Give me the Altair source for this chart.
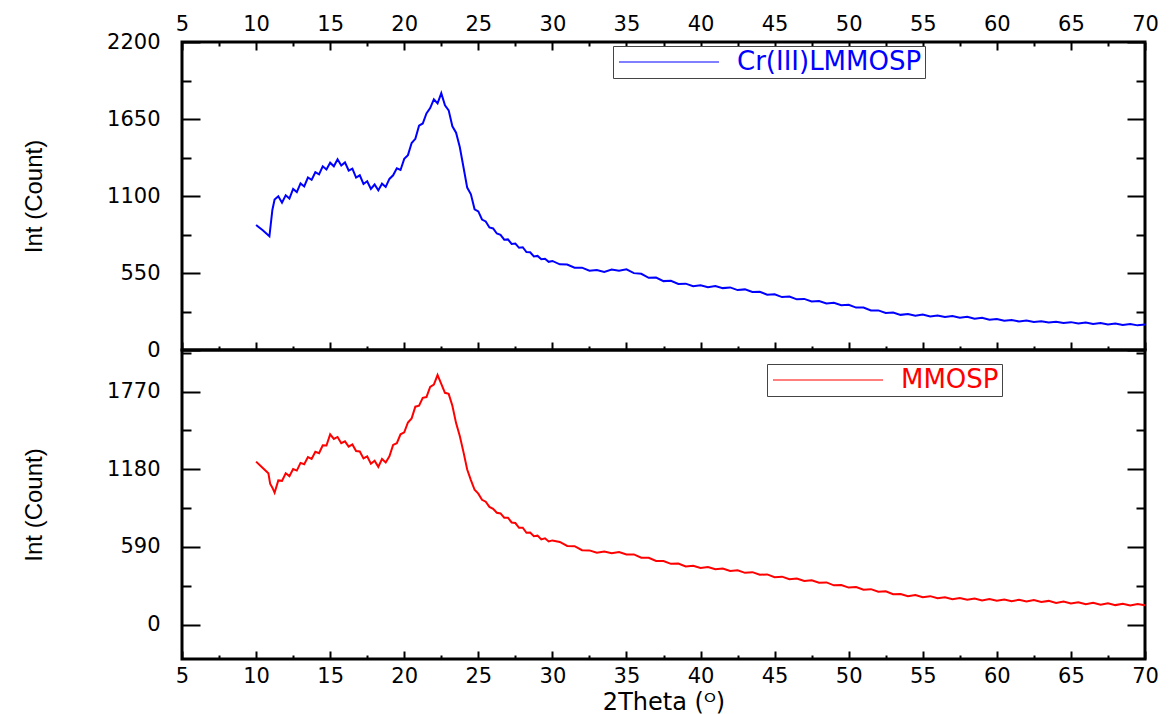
import altair as alt
import pandas as pd

# ---------------- data ----------------
blue_x = [10.0, 10.45, 10.9, 11.1, 11.25, 11.5, 11.75, 12.0, 12.25, 12.5, 12.75, 13.0, 13.25,
          13.5, 13.75, 14.0, 14.25, 14.5, 14.75, 15.0, 15.25, 15.5, 15.75, 16.0, 16.25, 16.5,
          16.75, 17.0, 17.25, 17.5, 17.75, 18.0, 18.25, 18.5, 18.75, 19.0, 19.25, 19.5, 19.75,
          20.0, 20.25, 20.5, 20.75, 21.0, 21.25, 21.5, 21.75, 22.0, 22.25, 22.5, 22.75, 23.0,
          23.25, 23.5, 23.75, 24.0, 24.25, 24.5, 24.75, 25.0, 25.25, 25.5, 25.75, 26.0, 26.25,
          26.5, 26.75, 27.0, 27.25, 27.5, 27.75, 28.0, 28.25, 28.5, 28.75, 29.0, 29.25, 29.5,
          29.75, 30.0, 30.5, 31.0, 31.5, 32.0, 32.5, 33.0, 33.5, 34.0, 34.5, 35.0, 35.5, 36.0,
          36.5, 37.0, 37.5, 38.0, 38.5, 39.0, 39.5, 40.0, 40.5, 41.0, 41.5, 42.0, 42.5, 43.0,
          43.5, 44.0, 44.5, 45.0, 45.5, 46.0, 46.5, 47.0, 47.5, 48.0, 48.5, 49.0, 49.5, 50.0,
          50.5, 51.0, 51.5, 52.0, 52.5, 53.0, 53.5, 54.0, 54.5, 55.0, 55.5, 56.0, 56.5, 57.0,
          57.5, 58.0, 58.5, 59.0, 59.5, 60.0, 60.5, 61.0, 61.5, 62.0, 62.5, 63.0, 63.5, 64.0,
          64.5, 65.0, 65.5, 66.0, 66.5, 67.0, 67.5, 68.0, 68.5, 69.0, 69.5, 70.0]
blue_y = [893, 855, 812, 1000, 1075, 1098, 1052, 1105, 1082, 1150, 1128, 1190, 1168,
          1232, 1215, 1270, 1255, 1312, 1290, 1338, 1312, 1362, 1318, 1340, 1282, 1296,
          1232, 1248, 1186, 1205, 1150, 1182, 1140, 1188, 1165, 1222, 1248, 1298, 1286,
          1365, 1392, 1478, 1508, 1602, 1618, 1690, 1728, 1790, 1762, 1835, 1748, 1712,
          1598, 1552, 1450, 1305, 1160, 1112, 1005, 990, 932, 918, 875, 868, 832,
          822, 788, 790, 758, 760, 730, 734, 700, 698, 668, 672, 648, 652,
          630, 636, 612, 611, 588, 588, 566, 571, 558, 575, 566, 576, 549, 544,
          516, 518, 492, 494, 472, 474, 456, 463, 449, 457, 442, 447, 428, 433,
          414, 416, 395, 398, 378, 382, 362, 365, 347, 350, 333, 337, 320, 323,
          303, 303, 283, 283, 265, 267, 251, 257, 245, 253, 240, 247, 235, 243,
          231, 238, 224, 230, 216, 222, 209, 214, 204, 210, 200, 206, 196, 202,
          193, 199, 189, 196, 186, 193, 183, 189, 179, 186, 176, 183]

red_x = [10.0, 10.4, 10.83, 10.95, 11.1, 11.25, 11.5, 11.75, 12.0, 12.25, 12.5, 12.75, 13.0,
         13.25, 13.5, 13.75, 14.0, 14.25, 14.5, 14.75, 15.0, 15.25, 15.5, 15.75, 16.0, 16.25,
         16.5, 16.75, 17.0, 17.25, 17.5, 17.75, 18.0, 18.25, 18.5, 18.75, 19.0, 19.25, 19.5,
         19.75, 20.0, 20.25, 20.5, 20.75, 21.0, 21.25, 21.5, 21.75, 22.0, 22.25, 22.5, 22.75,
         23.0, 23.25, 23.5, 23.75, 24.0, 24.25, 24.5, 24.75, 25.0, 25.25, 25.5, 25.75, 26.0,
         26.25, 26.5, 26.75, 27.0, 27.25, 27.5, 27.75, 28.0, 28.25, 28.5, 28.75, 29.0, 29.25,
         29.5, 29.75, 30.0, 30.5, 31.0, 31.5, 32.0, 32.5, 33.0, 33.5, 34.0, 34.5, 35.0, 35.5,
         36.0, 36.5, 37.0, 37.5, 38.0, 38.5, 39.0, 39.5, 40.0, 40.5, 41.0, 41.5, 42.0, 42.5,
         43.0, 43.5, 44.0, 44.5, 45.0, 45.5, 46.0, 46.5, 47.0, 47.5, 48.0, 48.5, 49.0, 49.5,
         50.0, 50.5, 51.0, 51.5, 52.0, 52.5, 53.0, 53.5, 54.0, 54.5, 55.0, 55.5, 56.0, 56.5,
         57.0, 57.5, 58.0, 58.5, 59.0, 59.5, 60.0, 60.5, 61.0, 61.5, 62.0, 62.5, 63.0, 63.5,
         64.0, 64.5, 65.0, 65.5, 66.0, 66.5, 67.0, 67.5, 68.0, 68.5, 69.0, 69.5, 70.0]
red_y = [1238, 1195, 1150, 1070, 1040, 1002, 1095, 1092, 1150, 1128, 1182, 1170, 1228,
         1218, 1272, 1258, 1312, 1302, 1362, 1360, 1445, 1410, 1425, 1378, 1392, 1352,
         1368, 1318, 1315, 1262, 1278, 1222, 1245, 1198, 1258, 1232, 1278, 1365, 1378,
         1445, 1460, 1535, 1566, 1655, 1662, 1722, 1728, 1805, 1822, 1895, 1828, 1760,
         1752, 1662, 1530, 1432, 1310, 1178, 1098, 1024, 995, 948, 934, 894, 880,
         850, 845, 812, 812, 776, 772, 736, 736, 698, 700, 672, 676, 648,
         656, 632, 640, 628, 598, 596, 566, 564, 546, 556, 542, 552, 534, 534,
         509, 508, 484, 484, 462, 464, 442, 448, 431, 438, 421, 427, 408, 413,
         394, 399, 379, 382, 361, 365, 346, 351, 332, 337, 319, 321, 299, 302,
         282, 286, 266, 270, 250, 254, 232, 233, 217, 225, 209, 217, 201, 209,
         194, 203, 189, 199, 185, 195, 182, 192, 179, 190, 177, 187, 172, 181,
         166, 176, 161, 171, 156, 166, 152, 163, 149, 160, 147, 158, 148]

blue_name = "Cr(III)LMMOSP"
red_name = "MMOSP"

x_major = [5, 10, 15, 20, 25, 30, 35, 40, 45, 50, 55, 60, 65, 70]
x_minor = [7.5, 12.5, 17.5, 22.5, 27.5, 32.5, 37.5, 42.5, 47.5, 52.5, 57.5, 62.5, 67.5]
top_y_major = [0, 550, 1100, 1650, 2200]
top_y_minor = [275, 825, 1375, 1925]
bot_y_major = [0, 590, 1180, 1770]
bot_y_minor = [295, 885, 1475, 2065]

x_domain = [5, 70]
top_y_domain = [0, 2200]
bot_y_domain = [-260, 2085]

# ---------------- styling ----------------
LABEL_FONT = "DejaVu Sans"
YTITLE_FONT = "Liberation Sans"
W = 963
H_TOP = 308
H_BOT = 309


def label_axis(orient, values, pad, title=None, title_pad=0, title_font=None, title_size=None):
    kw = dict(orient=orient, values=values, ticks=False, tickSize=0, domain=False, grid=False,
              labels=True, labelPadding=pad, labelFont=LABEL_FONT, labelFontSize=21,
              labelColor="black", labelFlush=False, format="d", offset=0, title=title)
    if title is not None:
        kw.update(titlePadding=title_pad, titleFontWeight="normal", titleColor="black",
                  titleFont=title_font, titleFontSize=title_size)
    return alt.Axis(**kw)


def tick_axis(orient, values, size):
    # inward ticks: negative length given as an expression
    return alt.Axis(orient=orient, values=values, tickSize=alt.ExprRef(expr=str(-size)),
                    tickWidth=2, tickColor="black", domain=False, grid=False, labels=False,
                    offset=0, title=None)


def panel(xv, yv, name, color, ydom, ymaj, ymin, height, top, lx, ly, sym_len):
    df = pd.DataFrame({"x": xv, "y": yv, "series": [name] * len(xv)})
    xs = alt.Scale(domain=x_domain, nice=False, zero=False)
    ys = alt.Scale(domain=ydom, nice=False, zero=False)
    base = alt.Chart(df)
    legend = alt.Legend(orient="none", legendX=lx, legendY=ly, title=None,
                        symbolType="M-1,0H%d" % (sym_len // 10 - 1), symbolSize=400,
                        symbolStrokeWidth=1.2,
                        labelColor=color, labelFont=LABEL_FONT, labelFontSize=26,
                        labelLimit=0, labelOffset=sym_len - 5,
                        strokeColor="#444", fillColor="white", padding=3)

    y_lab = label_axis("left", ymaj, 22, title="Int (Count)", title_pad=60,
                       title_font=YTITLE_FONT, title_size=24)
    if top:
        x_lab = label_axis("top", x_major, 8)
        x_other = "bottom"
    else:
        x_lab = label_axis("bottom", x_major, 6, title="2Theta (ᴼ)", title_pad=4,
                           title_font=LABEL_FONT, title_size=24)
        x_other = None

    X = lambda axis: alt.X("x:Q", scale=xs, axis=axis)
    Y = lambda axis: alt.Y("y:Q", scale=ys, axis=axis)
    near = "top" if top else "bottom"

    line = base.mark_line(strokeWidth=2, clip=True).encode(
        x=X(x_lab), y=Y(y_lab),
        color=alt.Color("series:N", scale=alt.Scale(domain=[name], range=[color]), legend=legend),
    )
    ghosts = [
        (tick_axis(near, x_major, 8), tick_axis("left", ymaj, 18)),
        (tick_axis(near, x_minor, 4), tick_axis("left", ymin, 9)),
        (tick_axis(x_other, x_major, 8) if x_other else None, tick_axis("right", ymaj, 18)),
        (tick_axis(x_other, x_minor, 4) if x_other else None, tick_axis("right", ymin, 9)),
    ]
    layers = [line]
    for xa, ya in ghosts:
        layers.append(base.mark_line(strokeOpacity=0).encode(x=X(xa), y=Y(ya)))
    return alt.layer(*layers).resolve_axis(x="independent", y="independent").properties(
        width=W, height=height)


top_panel = panel(blue_x, blue_y, blue_name, "#0000ff", top_y_domain, top_y_major, top_y_minor,
                  H_TOP, True, 431, 4, 100)
bot_panel = panel(red_x, red_y, red_name, "#ff0000", bot_y_domain, bot_y_major, bot_y_minor,
                  H_BOT, False, 585, 14, 110)

chart = alt.vconcat(top_panel, bot_panel, spacing=0, bounds="flush").resolve_scale(
    color="independent").resolve_legend(color="independent").properties(
    padding={"left": 13, "top": 3, "right": 0, "bottom": 0}
).configure_view(stroke="black", strokeWidth=3)

chart.save("out.html", embed_options={"renderer": "svg", "actions": False})
